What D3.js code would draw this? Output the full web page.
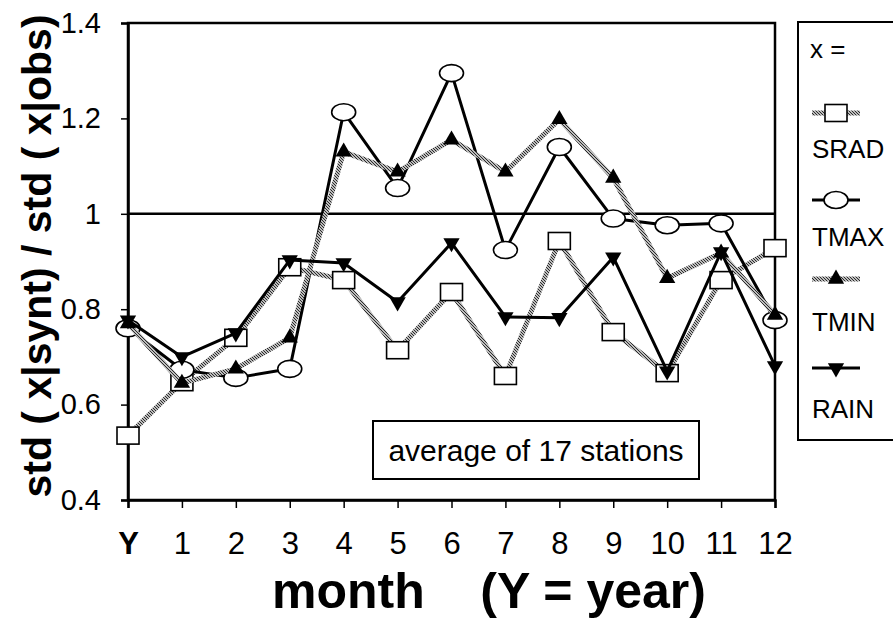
<!DOCTYPE html>
<html>
<head>
<meta charset="utf-8">
<title>std ratio by month</title>
<script src="https://cdnjs.cloudflare.com/ajax/libs/d3/7.8.5/d3.min.js"></script>
<style>
  body { margin: 0; background: #fff; }
  svg { display: block; font-family: "Liberation Sans", Arial, sans-serif; }
</style>
</head>
<body>
<svg id="svg" width="893" height="619"></svg>
<script>
// categories (Y = year, then months)
const months = ['Y', '1', '2', '3', '4', '5', '6', '7', '8', '9', '10', '11', '12']
const yTicks = [0.4, 0.6, 0.8, 1.0, 1.2, 1.4]

// series values
const srad = [0.535, 0.647, 0.74, 0.888, 0.861, 0.714, 0.836, 0.66, 0.943, 0.752, 0.666, 0.861, 0.928]
const tmax = [0.76, 0.673, 0.656, 0.675, 1.213, 1.054, 1.295, 0.924, 1.14, 0.99, 0.976, 0.98, 0.777]
const tmin = [0.77, 0.645, 0.675, 0.74, 1.13, 1.088, 1.155, 1.088, 1.198, 1.075, 0.865, 0.918, 0.788]
const rain = [0.777, 0.70, 0.75, 0.903, 0.897, 0.815, 0.939, 0.784, 0.782, 0.909, 0.67, 0.92, 0.681]

const seriesNames = ['SRAD', 'TMAX', 'TMIN', 'RAIN']
const seriesData = [srad, tmax, tmin, rain]

const svg = d3.select('#svg')

// dithered gray like the scanned excel lines
const defs = svg.append('defs')
const pat = defs.append('pattern')
  .attr('id', 'dither')
  .attr('width', 3).attr('height', 3)
  .attr('patternUnits', 'userSpaceOnUse')
pat.append('rect').attr('width', 3).attr('height', 3).attr('fill', '#bcbcbc')
;[[0, 0], [1, 1], [2, 2]].forEach(p => {
  pat.append('rect').attr('x', p[0]).attr('y', p[1]).attr('width', 1).attr('height', 1).attr('fill', '#2a2a2a')
})

const x = d3.scalePoint().domain(months).range([128, 775])
const y = d3.scaleLinear().domain([0.4, 1.4]).range([500, 23])

const styles = {
  SRAD: {stroke: 'url(#dither)', width: 5, marker: 'square'},
  TMAX: {stroke: '#000', width: 3, marker: 'circle'},
  TMIN: {stroke: 'url(#dither)', width: 5, marker: 'up'},
  RAIN: {stroke: '#000', width: 3, marker: 'down'}
}

function drawMarker(g, kind, cx, cy) {
  if (kind == 'square') {
    g.append('rect').attr('x', cx - 11).attr('y', cy - 8.5).attr('width', 22).attr('height', 17)
      .attr('fill', '#fff').attr('stroke', '#000').attr('stroke-width', 1.6)
  } else if (kind == 'circle') {
    g.append('ellipse').attr('cx', cx).attr('cy', cy).attr('rx', 12).attr('ry', 8.5)
      .attr('fill', '#fff').attr('stroke', '#000').attr('stroke-width', 1.6)
  } else {
    g.append('path')
      .attr('d', d3.symbol(d3.symbolTriangle, 115)())
      .attr('transform', `translate(${cx},${cy})` + (kind == 'down' ? ' rotate(180)' : ''))
      .attr('fill', '#000')
  }
}

// frame + 1.0 reference line
svg.append('rect')
  .attr('x', x('Y')).attr('y', y(1.4))
  .attr('width', x('12') - x('Y')).attr('height', y(0.4) - y(1.4))
  .attr('fill', 'none').attr('stroke', '#000').attr('stroke-width', 2.5)

svg.append('line')
  .attr('x1', x('Y')).attr('x2', x('12'))
  .attr('y1', y(1.0)).attr('y2', y(1.0))
  .attr('stroke', '#000').attr('stroke-width', 2.5)

// axes
const yAxis = svg.append('g')
  .attr('transform', `translate(${x('Y')},0)`)
  .call(d3.axisLeft(y).tickValues(yTicks).tickSize(7).tickPadding(20)
    .tickFormat(d => d == 1 ? '1' : d3.format('.1f')(d)))
yAxis.select('.domain').attr('stroke-width', 2.5)
yAxis.selectAll('.tick line').attr('stroke-width', 1.5)
yAxis.selectAll('.tick text').attr('font-size', 29).attr('font-family', 'Liberation Sans, Arial').attr('fill', '#000')

const xAxis = svg.append('g')
  .attr('transform', `translate(0,${y(0.4)})`)
  .call(d3.axisBottom(x).tickSize(8).tickPadding(24))
xAxis.select('.domain').attr('stroke-width', 2.5)
xAxis.selectAll('.tick line').attr('stroke-width', 1.5)
xAxis.selectAll('.tick text').attr('font-size', 31).attr('font-family', 'Liberation Sans, Arial').attr('fill', '#000')
  .attr('font-weight', d => d == 'Y' ? 'bold' : 'normal')

// series
const line = d3.line().x((d, i) => x(months[i])).y(d => y(d))

seriesNames.forEach((name, k) => {
  const st = styles[name]
  const g = svg.append('g').attr('class', 'series')
  g.append('path')
    .attr('d', line(seriesData[k]))
    .attr('fill', 'none')
    .attr('stroke', st.stroke)
    .attr('stroke-width', st.width)
    .attr('stroke-linejoin', 'round')
  seriesData[k].forEach((v, i) => drawMarker(g, st.marker, x(months[i]), y(v)))
})

// note box
svg.append('rect')
  .attr('x', 373).attr('y', 421).attr('width', 326).attr('height', 58)
  .attr('fill', '#fff').attr('stroke', '#000').attr('stroke-width', 2)
svg.append('text')
  .attr('x', 536).attr('y', 461)
  .attr('text-anchor', 'middle')
  .attr('font-size', 30)
  .text('average of 17 stations')

// legend
svg.append('rect')
  .attr('x', 798).attr('y', 22).attr('width', 140).attr('height', 418)
  .attr('fill', '#fff').attr('stroke', '#000').attr('stroke-width', 2)
svg.append('text').attr('x', 810).attr('y', 58).attr('font-size', 26).text('x =')

const legendSym = [113, 200, 279, 368]
const legendTxt = [158, 246, 331, 418]
seriesNames.forEach((name, k) => {
  const st = styles[name]
  const g = svg.append('g')
  g.append('line')
    .attr('x1', 812).attr('x2', 860)
    .attr('y1', legendSym[k]).attr('y2', legendSym[k])
    .attr('stroke', st.stroke).attr('stroke-width', st.width)
  drawMarker(g, st.marker, 836, legendSym[k])
  g.append('text').attr('x', 812).attr('y', legendTxt[k]).attr('font-size', 26).text(name)
})

// axis titles
svg.append('text')
  .attr('transform', 'translate(51,256) rotate(-90)')
  .attr('text-anchor', 'middle')
  .attr('font-size', 41).attr('font-weight', 'bold')
  .text('std ( x|synt) / std ( x|obs)')

svg.append('text')
  .attr('x', 489).attr('y', 608)
  .attr('text-anchor', 'middle')
  .attr('font-size', 50).attr('font-weight', 'bold')
  .attr('xml:space', 'preserve')
  .style('white-space', 'pre')
  .text('month    (Y = year)')
</script>
</body>
</html>
